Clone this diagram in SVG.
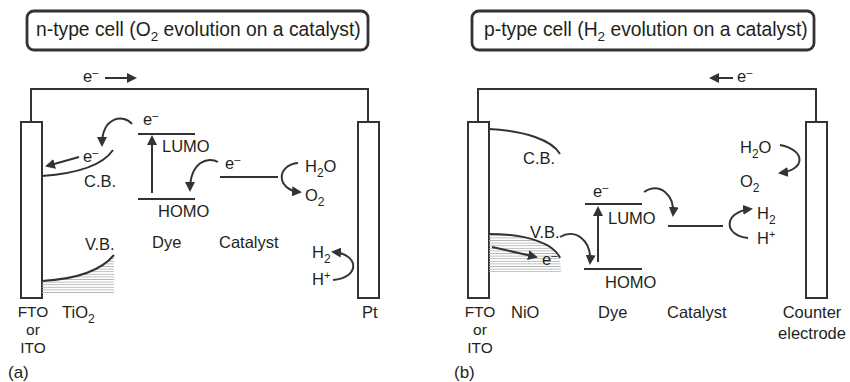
<svg xmlns="http://www.w3.org/2000/svg" width="850" height="382" viewBox="0 0 850 382">
<style>
text{font-family:"Liberation Sans",Arial,sans-serif;font-size:16.5px;fill:#231f20}
.title{font-size:19.3px}
.sub{font-size:12px}
.tsub{font-size:13.5px}
.sup{font-size:11px}
.stack{font-size:15.5px}
.ln{fill:none;stroke:#333;stroke-width:2}
.arr{fill:none;stroke:#333;stroke-width:2;marker-end:url(#ah)}
.el{fill:#fff;stroke:#333;stroke-width:2}
.box{fill:#fff;stroke:#333;stroke-width:2.8}
.mid{text-anchor:middle}
</style>
<defs>
<marker id="ah" viewBox="0 0 10 10" refX="8" refY="5" markerWidth="5" markerHeight="5" orient="auto" markerUnits="strokeWidth">
<path d="M0,0 L10,5 L0,10 Z" fill="#333"/>
</marker>
<pattern id="hatch" width="6" height="2.6" patternUnits="userSpaceOnUse">
<line x1="0" y1="1.3" x2="6" y2="1.3" stroke="#b5b5b5" stroke-width="0.9"/>
</pattern>
</defs>

<!-- Panel (a) -->
<g id="titleA">
<rect class="box" x="27" y="11" width="341" height="39" rx="7"/>
<text class="title" x="36" y="36">n-type cell (O<tspan class="tsub" dy="5">2</tspan><tspan dy="-5"> evolution on a catalyst)</tspan></text>
</g>
<g id="electrodeA-left">
<rect class="el" x="21" y="122" width="21" height="176"/>
<text class="mid stack" x="33" y="317">FTO</text>
<text class="mid stack" x="33" y="335">or</text>
<text class="mid stack" x="33" y="353">ITO</text>
</g>
<g id="electrodeA-right">
<rect class="el" x="358" y="122" width="21" height="176"/>
<text x="362" y="318">Pt</text>
</g>
<g id="tio2">
<path d="M42,281 Q95,278 114,255 L114,293 L42,293 Z" fill="url(#hatch)"/>
<path class="ln" d="M42,176 Q98,172 113,150"/>
<path class="ln" d="M42,281 Q95,278 114,255"/>
<text x="84" y="187">C.B.</text>
<text x="85" y="250">V.B.</text>
<text x="62" y="318">TiO<tspan class="sub" dy="5">2</tspan></text>
</g>
<g id="dyeA">
<line class="ln" x1="138" y1="134" x2="195" y2="134"/>
<line class="ln" x1="138" y1="199" x2="195" y2="199"/>
<text x="162" y="152">LUMO</text>
<text x="158" y="217">HOMO</text>
<text x="152" y="248">Dye</text>
</g>
<g id="catalystA">
<line class="ln" x1="220" y1="177" x2="278" y2="177"/>
<text x="219" y="248">Catalyst</text>
<text x="305" y="172">H<tspan class="sub" dy="5">2</tspan><tspan dy="-5">O</tspan></text>
<text x="305" y="201">O<tspan class="sub" dy="5">2</tspan></text>
</g>
<g id="labelsA">
<text x="83" y="82">e<tspan class="sup" dy="-6">–</tspan></text>
<text x="143" y="125">e<tspan class="sup" dy="-6">–</tspan></text>
<text x="83" y="162">e<tspan class="sup" dy="-6">–</tspan></text>
<text x="225" y="169">e<tspan class="sup" dy="-6">–</tspan></text>
<text x="312" y="258">H<tspan class="sub" dy="5">2</tspan></text>
<text x="312" y="285">H<tspan class="sup" dy="-6">+</tspan></text>
<text x="8" y="378" style="font-size:17px">(a)</text>
</g>

<!-- Panel (b) -->
<g id="titleB">
<rect class="box" x="472" y="11" width="342" height="39" rx="7"/>
<text class="title" x="484" y="36">p-type cell (H<tspan class="tsub" dy="5">2</tspan><tspan dy="-5"> evolution on a catalyst)</tspan></text>
</g>
<g id="electrodeB-left">
<rect class="el" x="468" y="122" width="21" height="176"/>
<text class="mid stack" x="480" y="317">FTO</text>
<text class="mid stack" x="480" y="335">or</text>
<text class="mid stack" x="480" y="353">ITO</text>
</g>
<g id="electrodeB-right">
<rect class="el" x="806" y="122" width="21" height="176"/>
<text class="mid" x="812" y="318">Counter</text>
<text class="mid" x="812" y="339">electrode</text>
</g>
<g id="nio">
<path d="M489,234 C530,234 555,245 560,258 L561,272 L489,272 Z" fill="url(#hatch)"/>
<path class="ln" d="M489,129 C525,131 552,140 560,154"/>
<path class="ln" d="M489,234 C530,234 555,245 560,258"/>
<text x="523" y="164">C.B.</text>
<text x="530" y="238">V.B.</text>
<text x="511" y="318">NiO</text>
</g>
<g id="dyeB">
<line class="ln" x1="585" y1="204" x2="642" y2="204"/>
<line class="ln" x1="584" y1="269" x2="642" y2="269"/>
<text x="608" y="224">LUMO</text>
<text x="605" y="288">HOMO</text>
<text x="598" y="318">Dye</text>
</g>
<g id="catalystB">
<line class="ln" x1="668" y1="226" x2="723" y2="226"/>
<text x="667" y="318">Catalyst</text>
<text x="757" y="219">H<tspan class="sub" dy="5">2</tspan></text>
<text x="757" y="244">H<tspan class="sup" dy="-6">+</tspan></text>
</g>
<g id="labelsB">
<text x="737" y="82">e<tspan class="sup" dy="-6">–</tspan></text>
<text x="593" y="197">e<tspan class="sup" dy="-6">–</tspan></text>
<text x="542" y="265">e<tspan class="sup" dy="-6">–</tspan></text>
<text x="740" y="153">H<tspan class="sub" dy="5">2</tspan><tspan dy="-5">O</tspan></text>
<text x="740" y="187">O<tspan class="sub" dy="5">2</tspan></text>
<text x="454" y="378" style="font-size:17px">(b)</text>
</g>

<g id="connectors">
<path class="ln" d="M31,122 V89 H368 V122"/>
<path class="ln" d="M478,122 V89 H816 V122"/>
<line class="arr" x1="105" y1="78" x2="135" y2="78"/>
<line class="arr" x1="733" y1="78" x2="711" y2="78"/>
<path class="arr" d="M132,124 C124,114 102,116 102,145"/>
<path class="arr" d="M79,157 L47,166"/>
<path class="arr" d="M152,193 V137"/>
<path class="arr" d="M218,162 C208,156 190,162 190,190"/>
<path class="arr" d="M298,163 C276,165 276,190 300,192"/>
<path class="arr" d="M333,280 C360,278 360,254 333,252"/>
<path class="arr" d="M780,145 C806,150 806,170 780,173"/>
<path class="arr" d="M644,192 C660,182 675,195 673,215"/>
<path class="arr" d="M748,238 C724,236 722,212 751,209"/>
<path class="arr" d="M560,237 C575,228 592,240 590,263"/>
<path class="arr" d="M492,247 L536,257"/>
<path class="arr" d="M598,262 V208"/>
</g>
</svg>
